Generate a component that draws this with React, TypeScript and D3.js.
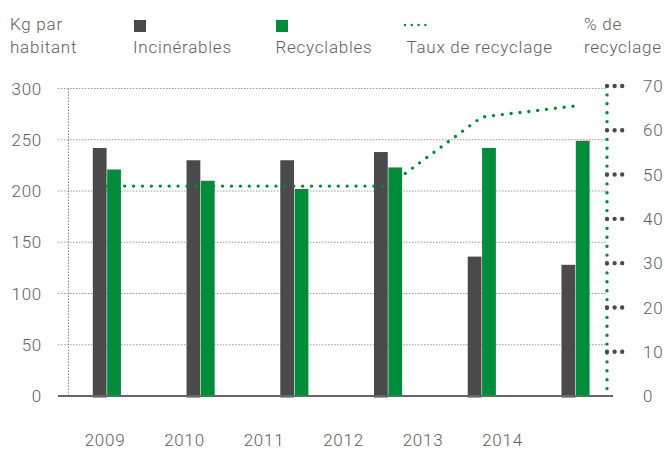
import React from "react";
import * as d3 from "d3";

// données
const years = ["2009", "2010", "2011", "2012", "2013", "2014"];
const incinerables = [242, 230, 230, 238, 136, 128];
const recyclables = [221, 210, 202, 223, 242, 249];
const tauxRecyclage = [47.4, 47.4, 47.4, 47.4, 63, 65.5];
const kgTicks = [0, 50, 100, 150, 200, 250, 300];
const pctTicks = [0, 10, 20, 30, 40, 50, 60, 70];

const W = 665;
const H = 450;
const DARK = "#4a4a4a";
const GREEN = "#008c3a";
const TEXT = "#5e5e5e";
const GRID = "#9a9a9a";
const FONT = "Roboto, 'Liberation Sans', sans-serif";

function App() {
  const x = d3.scaleBand<string>()
    .domain(years)
    .range([60, 622.4])
    .paddingInner(0.7)
    .paddingOuter(0.35);
  const xSeries = d3.scaleBand<string>()
    .domain(["inc", "rec"])
    .range([0, x.bandwidth()])
    .paddingInner(0.04);
  const xLabel = d3.scalePoint<string>().domain(years).range([105, 502.5]);
  const yKg = d3.scaleLinear().domain([0, 300]).range([396, 88.5]);
  const yPct = d3.scaleLinear().domain([0, 70]).range([396, 86]);

  const leftAxisX = 68.5;
  const rightAxisX = 607;
  const baseY = yKg(0);

  const line = d3.line<number>()
    .x((_, i) => (x(years[i]) as number) + x.bandwidth() / 2)
    .y(d => yPct(d));

  const txt = {
    fontFamily: FONT,
    fontSize: 17,
    fontWeight: 300,
    fill: TEXT,
    letterSpacing: "0.75px",
  } as React.CSSProperties;

  return (
    <svg
      width={W}
      height={H}
      style={{ position: "absolute", left: 0, top: 0, background: "#fff" }}
    >
      {/* grille */}
      {kgTicks.filter(t => t > 0).map(t => (
        <line key={"g" + t} x1={58} x2={rightAxisX} y1={yKg(t)} y2={yKg(t)}
          stroke={GRID} strokeWidth={1} strokeDasharray="1.5 1.5" />
      ))}
      <line x1={leftAxisX} x2={leftAxisX} y1={yKg(300)} y2={baseY}
        stroke="#888" strokeWidth={1} strokeDasharray="1.5 1.5" />

      {/* barres */}
      {years.map((yr, i) => (
        <g key={yr} transform={`translate(${x(yr)},0)`}>
          <rect x={xSeries("inc")} width={xSeries.bandwidth()}
            y={yKg(incinerables[i])} height={baseY + 1.5 - yKg(incinerables[i])} fill={DARK} />
          <rect x={xSeries("rec")} width={xSeries.bandwidth()}
            y={yKg(recyclables[i])} height={baseY - yKg(recyclables[i])} fill={GREEN} />
        </g>
      ))}

      {/* ligne de base */}
      <line x1={58} x2={613} y1={baseY} y2={baseY} stroke="#666" strokeWidth={2} />

      {/* taux de recyclage */}
      <path d={line(tauxRecyclage) || ""} fill="none" stroke={GREEN} strokeWidth={3.4}
        strokeDasharray="0 8.9" strokeLinecap="round" />

      {/* axe droit */}
      <line x1={rightAxisX} x2={rightAxisX} y1={yPct(70)} y2={yPct(0)} stroke={GREEN}
        strokeWidth={3.4} strokeDasharray="0 8.9" strokeLinecap="round" />
      {pctTicks.filter(t => t > 0).map(t => (
        <line key={"t" + t} x1={rightAxisX} x2={rightAxisX + 16} y1={yPct(t)} y2={yPct(t)}
          stroke={DARK} strokeWidth={4.4} strokeDasharray="0 7.6" strokeLinecap="round" />
      ))}

      {/* étiquettes axe gauche */}
      {kgTicks.map(t => (
        <text key={"l" + t} x={42} y={yKg(t)} dy="0.36em" textAnchor="end" style={txt}>{t}</text>
      ))}
      {/* étiquettes axe droit */}
      {pctTicks.map(t => (
        <text key={"r" + t} x={643} y={yPct(t)} dy="0.36em" style={txt}>{t}</text>
      ))}
      {/* années */}
      {years.map(yr => (
        <text key={"x" + yr} x={xLabel(yr)} y={446} textAnchor="middle" style={txt}>{yr}</text>
      ))}

      {/* légende */}
      <text x={10} y={29.5} style={txt}>Kg par</text>
      <text x={10} y={52.5} style={txt}>habitant</text>

      <rect x={134} y={20} width={12} height={12} fill={DARK} />
      <text x={133} y={52.5} style={txt}>Incinérables</text>

      <rect x={276} y={20} width={12} height={12} fill={GREEN} />
      <text x={275.5} y={52.5} style={txt}>Recyclables</text>

      <line x1={405} x2={426} y1={25} y2={25} stroke={GREEN} strokeWidth={2.4}
        strokeDasharray="0 6.8" strokeLinecap="round" />
      <text x={406.5} y={52.5} style={txt}>Taux de recyclage</text>

      <text x={584} y={29.5} style={txt}>% de</text>
      <text x={584} y={52.5} style={txt}>recyclage</text>
    </svg>
  );
}

export default App;
